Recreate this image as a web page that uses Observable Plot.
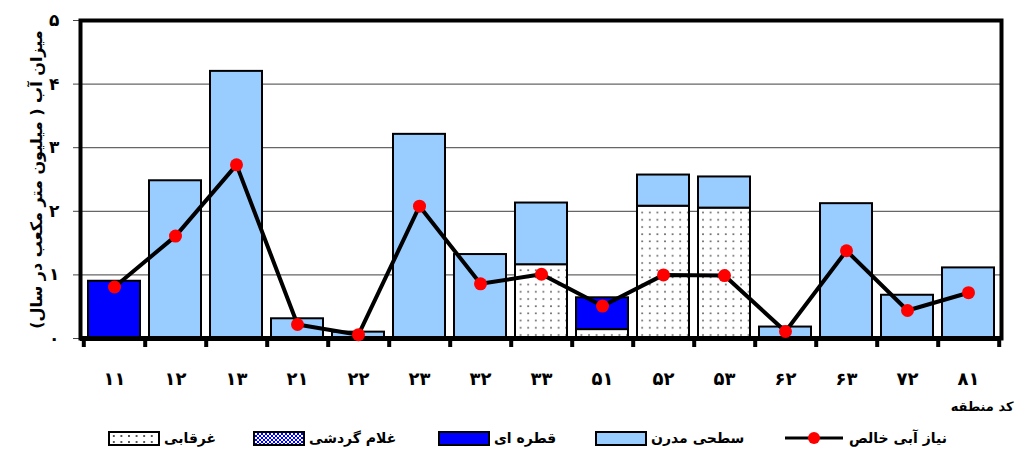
<!DOCTYPE html>
<html>
<head>
<meta charset="utf-8">
<script src="https://cdn.jsdelivr.net/npm/d3@7"></script>
<script src="https://cdn.jsdelivr.net/npm/@observablehq/plot@0.6"></script>
<style>
  body { margin: 0; background: #fff; font-family: "DejaVu Sans", sans-serif; }
  #wrap { position: relative; width: 1018px; height: 455px; overflow: hidden; }
  .leg { position: absolute; top: 430px; height: 16px; display: flex; align-items: center; font-weight: bold; font-size: 14px; white-space: nowrap; }
  .sw { width: 48px; height: 11px; border: 2px solid #000; margin-right: 4px; box-sizing: content-box; }
</style>
</head>
<body>
<div id="wrap"></div>
<script>
// ---- data ----
const regions = ["۱۱","۱۲","۱۳","۲۱","۲۲","۲۳","۳۲","۳۳","۵۱","۵۲","۵۳","۶۲","۶۳","۷۲","۸۱"];
const flood     = [0, 0, 0, 0, 0, 0, 0, 1.16, 0.14, 2.08, 2.05, 0, 0, 0, 0];      // غرقابی
const sprinkler = [0, 0, 0, 0, 0, 0, 0, 0, 0, 0, 0, 0, 0, 0, 0];                  // غلام گردشی
const drip      = [0.90, 0, 0, 0, 0, 0, 0, 0, 0.50, 0, 0, 0, 0, 0, 0];           // قطره ای
const surface   = [0, 2.48, 4.20, 0.31, 0.10, 3.21, 1.32, 0.97, 0, 0.49, 0.49, 0.18, 2.12, 0.68, 1.11]; // سطحی مدرن
const netNeed   = [0.81, 1.61, 2.73, 0.22, 0.06, 2.08, 0.86, 1.01, 0.51, 1.00, 0.99, 0.11, 1.38, 0.44, 0.72]; // نیاز آبی خالص
const seriesNames = ["غرقابی", "غلام گردشی", "قطره ای", "سطحی مدرن"];
const lineName = "نیاز آبی خالص";
const yTicks = [0, 1, 2, 3, 4, 5];
const yLabel = "میزان آب ( میلیون متر مکعب در سال)\u200F";
const xLabel = "کد منطقه";

const fa = v => String(v).replace(/\d/g, d => "۰۱۲۳۴۵۶۷۸۹"[d]);

const seriesValues = [flood, sprinkler, drip, surface];
const stacked = [];
regions.forEach((r, i) => {
  seriesNames.forEach((s, k) => {
    const v = seriesValues[k][i];
    if (v > 0) stacked.push({region: r, series: s, value: v});
  });
});
const lineData = regions.map((r, i) => ({region: r, value: netNeed[i]}));

const W = 1018, H = 420, mL = 80, mR = 17, mT = 20, mB = 82;
const step = (W - mL - mR) / regions.length;

function defs() {
  const ns = "http://www.w3.org/2000/svg";
  const d = document.createElementNS(ns, "defs");
  d.innerHTML = `
    <pattern id="dots" width="7.6" height="7.2" patternUnits="userSpaceOnUse">
      <rect width="7.6" height="7.2" fill="#fff"/>
      <rect x="3" y="3" width="1.6" height="1.6" fill="#555"/>
    </pattern>
    <pattern id="checker" width="4" height="4" patternUnits="userSpaceOnUse">
      <rect width="4" height="4" fill="#fff"/>
      <rect width="2" height="2" fill="#0000ff"/>
      <rect x="2" y="2" width="2" height="2" fill="#0000ff"/>
    </pattern>`;
  return d;
}

const chart = Plot.plot({
  width: W, height: H,
  marginLeft: mL, marginRight: mR, marginTop: mT, marginBottom: mB,
  style: {fontFamily: "'DejaVu Sans', sans-serif", fontWeight: "bold", background: "#fff", color: "#000"},
  x: {domain: regions, paddingInner: 0.15, paddingOuter: 0.075, axis: null},
  y: {domain: [0, 5], axis: null},
  color: {domain: seriesNames, range: ["url(#dots)", "url(#checker)", "#0000ff", "#99ccff"]},
  marks: [
    defs,
    Plot.gridY(yTicks.filter(t => t > 0 && t < 5), {stroke: "#666", strokeOpacity: 1, strokeWidth: 1.2}),
    Plot.axisY(yTicks, {tickSize: 7, tickPadding: 14, tickFormat: fa, fontSize: 17, stroke: "#444", label: null}),
    Plot.text([yLabel], {frameAnchor: "left", textAnchor: "middle", rotate: -90, dx: -44, fontSize: 16, fontWeight: "bold"}),
    Plot.barY(stacked, {x: "region", y: "value", fill: "series", stroke: "#000", strokeWidth: 2, order: seriesNames}),
    Plot.axisX(regions, {tickSize: 0, tickPadding: 34, fontSize: 18, label: null}),
    Plot.axisX(regions, {tickSize: 9, strokeWidth: 4, tickFormat: null, dx: step / 2, label: null}),
    Plot.axisX(regions.slice(0, 1), {tickSize: 9, strokeWidth: 4, tickFormat: null, dx: -step / 2, label: null}),
    Plot.frame({stroke: "#000", strokeWidth: 4}),
    Plot.ruleY([0], {stroke: "#000", strokeWidth: 5}),
    Plot.line(lineData, {x: "region", y: "value", stroke: "#000", strokeWidth: 4}),
    Plot.dot(lineData, {x: "region", y: "value", r: 6.5, fill: "#ff0000", stroke: null}),
    Plot.text([xLabel], {frameAnchor: "bottom-right", dx: 12, dy: 72, fontSize: 13, fontWeight: "bold"})
  ]
});

const wrap = document.getElementById("wrap");
wrap.appendChild(chart);

// legend
const items = [
  {name: seriesNames[0], left: 108, sw: "dots"},
  {name: seriesNames[1], left: 253, sw: "checker"},
  {name: seriesNames[2], left: 438, sw: "#0000ff"},
  {name: seriesNames[3], left: 595, sw: "#99ccff"},
  {name: lineName, left: 785, sw: "line"}
];
items.forEach(it => {
  const el = document.createElement("div");
  el.className = "leg";
  el.style.left = it.left + "px";
  let sym;
  if (it.sw === "line") {
    sym = `<svg width="58" height="16" style="margin-right:6px"><line x1="0" y1="8" x2="58" y2="8" stroke="#000" stroke-width="3"/><circle cx="29" cy="8" r="6" fill="#ff0000"/></svg>`;
  } else if (it.sw === "dots") {
    sym = `<div class="sw" style="background:#fff radial-gradient(#555 0.8px, transparent 1.2px) 0 0/7.6px 6px"></div>`;
  } else if (it.sw === "checker") {
    sym = `<div class="sw" style="background:repeating-conic-gradient(#0000ff 0 25%, #fff 0 50%) 0 0/4px 4px"></div>`;
  } else {
    sym = `<div class="sw" style="background:${it.sw}"></div>`;
  }
  el.innerHTML = sym + `<span>${it.name}</span>`;
  wrap.appendChild(el);
});
</script>
</body>
</html>
